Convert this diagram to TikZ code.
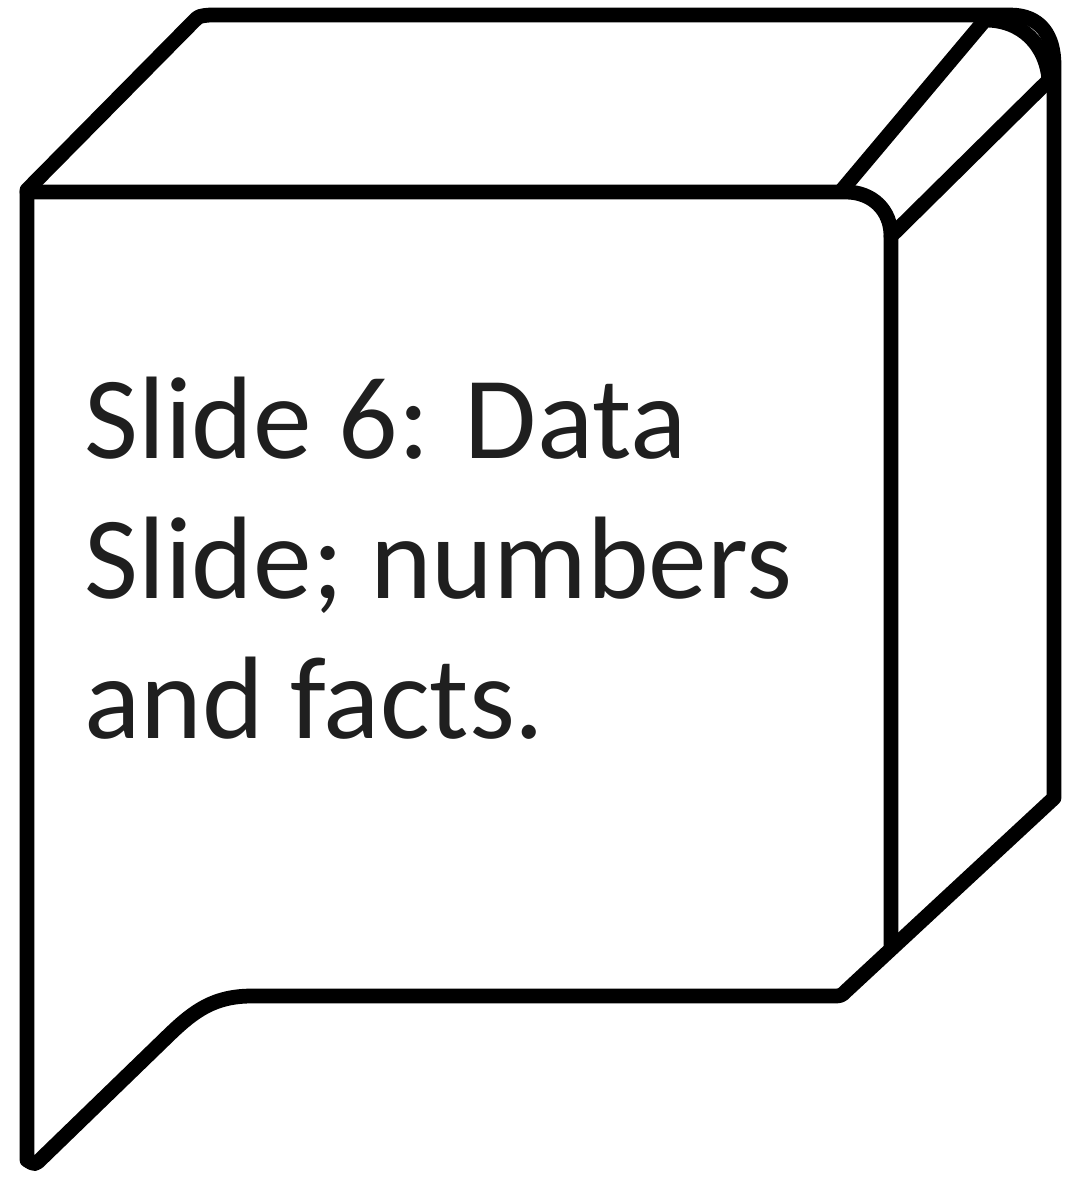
\documentclass[tikz,border=0pt]{standalone}
\usepackage{fontspec}
\setmainfont{Carlito}
\begin{document}
\begin{tikzpicture}[x=0.02cm,y=-0.02cm,
  edge/.style={line width=8.4pt, draw=black, line join=round, line cap=round},
  label/.style={inner sep=0pt, align=left, text=black!88, font=\fontsize{66.8}{79.7}\selectfont}]
\useasboundingbox (0,0) rectangle (1066,1178);
% outer outline
\draw[edge] (27,1160) -- (27,190) -- (194,21) .. controls (199,16) .. (210,15)
  -- (1010,15) .. controls (1040,15) and (1054,35) .. (1054,65)
  -- (1054,798) -- (846,991) .. controls (841,996) .. (832,996)
  -- (252,996) .. controls (215,996) and (195,1010) .. (170,1034)
  -- (42,1158) .. controls (35,1165) .. (27,1160);
% front face top and right edges
\draw[edge] (27,192) -- (846,192) .. controls (872,192) and (891,210) .. (891,236) -- (891,945);
% rounded top-right edge strip
\draw[edge] (842,190) -- (985,20) .. controls (1022,20) and (1046,45) .. (1049,80) -- (891,236);
% text
\node[label, anchor=north west] (txt) at (84,377) {Slide 6: Data\\Slide; numbers\\and facts.};
\end{tikzpicture}
\end{document}
